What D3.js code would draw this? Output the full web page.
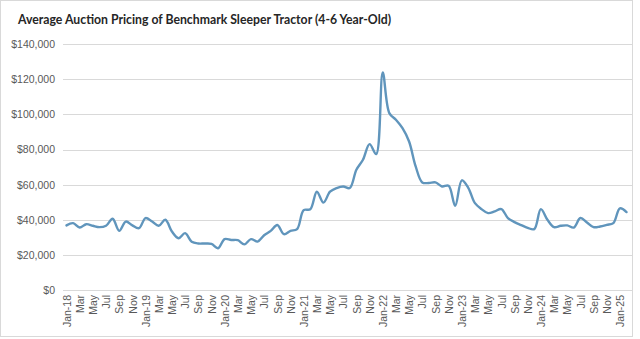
<!DOCTYPE html>
<html>
<head>
<meta charset="utf-8">
<script src="https://cdn.jsdelivr.net/npm/d3@7/dist/d3.min.js"></script>
<style>
  html, body { margin: 0; padding: 0; background: #ffffff; }
  svg { display: block; }
</style>
</head>
<body>
<svg id="chart" width="640" height="339"></svg>
<script>
// Monthly average auction price, Jan-2018 through Feb-2025
const years = ["18", "19", "20", "21", "22", "23", "24", "25"];
const monthNames = ["Jan", "Feb", "Mar", "Apr", "May", "Jun", "Jul", "Aug", "Sep", "Oct", "Nov", "Dec"];

const prices2018 = [36800, 38100, 35600, 37500, 36600, 35800, 36600, 40600, 33700, 39000, 36800, 35200];
const prices2019 = [41000, 39000, 36600, 40000, 33300, 29500, 32400, 27500, 26500, 26500, 26300, 23800];
const prices2020 = [29000, 28500, 28400, 26000, 29000, 27600, 31200, 33700, 37000, 31800, 33700, 34700];
const prices2021 = [45500, 46000, 56000, 49800, 56000, 58100, 59000, 58100, 68500, 74200, 83100, 77400];
const prices2022 = [123900, 100800, 97000, 92200, 84600, 70400, 61300, 61000, 61300, 59000, 59400, 48000];
const prices2023 = [62500, 58100, 49500, 46100, 43800, 44800, 46100, 41000, 38700, 37000, 35400, 34700];
const prices2024 = [46100, 40000, 35800, 36600, 36800, 35600, 41000, 38500, 35800, 36200, 37100, 38100];
const prices2025 = [46500, 44400];

const yTicks = [0, 20000, 40000, 60000, 80000, 100000, 120000, 140000];
const title = "Average Auction Pricing of Benchmark Sleeper Tractor (4-6 Year-Old)";

const values = [].concat(prices2018, prices2019, prices2020, prices2021,
                         prices2022, prices2023, prices2024, prices2025);

// Category keys like "Jan-18", "Feb-18", ...
const months = values.map((_, i) => {
  const m = i % 12, y = Math.floor(i / 12);
  return monthNames[m] + "-" + years[y];
});
const data = months.map((m, i) => ({ month: m, value: values[i] }));

const svg = d3.select("#chart");

// Outer frame
svg.append("rect")
  .attr("x", 0.5).attr("y", 0.5)
  .attr("width", 632).attr("height", 336)
  .attr("fill", "#ffffff")
  .attr("stroke", "#d9d9d9")
  .attr("stroke-width", 1);

const plotLeft = 63, plotRight = 632;

const x = d3.scalePoint()
  .domain(months)
  .range([66.5, 626.5]);

const y = d3.scaleLinear()
  .domain([0, 140000])
  .range([290, 44.3]);

// Horizontal gridlines
svg.append("g")
  .selectAll("line")
  .data(yTicks)
  .join("line")
  .attr("x1", plotLeft).attr("x2", plotRight)
  .attr("y1", d => Math.round(y(d)) + 0.5)
  .attr("y2", d => Math.round(y(d)) + 0.5)
  .attr("stroke", "#d9d9d9")
  .attr("stroke-width", 1);

// Y axis labels
const yAxis = d3.axisLeft(y)
  .tickValues(yTicks)
  .tickSize(0)
  .tickPadding(0)
  .tickFormat(d => "$" + d3.format(",")(d));

svg.append("g")
  .attr("transform", "translate(55,0)")
  .call(yAxis)
  .call(g => g.select(".domain").remove())
  .selectAll("text")
  .attr("font-family", "'Liberation Sans', Arial, sans-serif")
  .attr("font-size", "10.5px")
  .attr("fill", "#595959");

// X axis labels every second month, rotated
const xAxis = d3.axisBottom(x)
  .tickValues(months.filter((_, i) => i % 2 === 0))
  .tickSize(0)
  .tickPadding(0)
  .tickFormat(d => d.startsWith("Jan") ? d : d.slice(0, 3));

svg.append("g")
  .attr("transform", "translate(0,295)")
  .call(xAxis)
  .call(g => g.select(".domain").remove())
  .selectAll("text")
  .attr("font-family", "'Liberation Sans', Arial, sans-serif")
  .attr("font-size", "10.5px")
  .attr("fill", "#595959")
  .attr("text-anchor", "end")
  .attr("dy", "0.35em")
  .attr("y", 0)
  .attr("x", 0)
  .attr("transform", "rotate(-90)");

// Price line
const line = d3.line()
  .x(d => x(d.month))
  .y(d => y(d.value))
  .curve(d3.curveCatmullRom.alpha(0.5));

svg.append("path")
  .datum(data)
  .attr("d", line)
  .attr("fill", "none")
  .attr("stroke", "#6095bc")
  .attr("stroke-width", 2.4)
  .attr("stroke-linejoin", "round")
  .attr("stroke-linecap", "round");

// Title
svg.append("text")
  .attr("x", 18)
  .attr("y", 24)
  .attr("font-family", "Lato, 'Open Sans', sans-serif")
  .attr("font-weight", "bold")
  .attr("font-size", "13px")
  .attr("fill", "#262626")
  .attr("textLength", 373)
  .attr("lengthAdjust", "spacingAndGlyphs")
  .text(title);
</script>
</body>
</html>
